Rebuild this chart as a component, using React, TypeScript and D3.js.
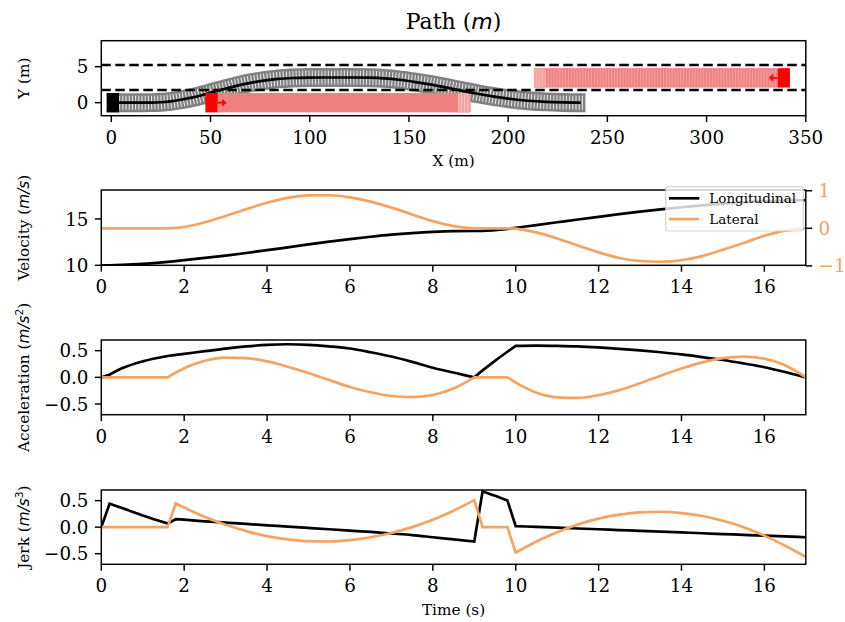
import React from "react";
import * as d3 from "d3";

// ---------------- data ----------------
const time = [0, 0.2, 0.5, 1, 1.6, 1.8, 2, 2.5, 3, 3.5, 4, 4.5, 5, 5.5, 6, 6.5, 7, 7.5, 8, 8.5, 9, 9.2, 9.5, 9.8, 10, 10.5, 11, 11.5, 12, 12.5, 13, 13.5, 14, 14.5, 15, 15.5, 16, 16.5, 17];
// sample times where the profiles have corners
const cornerTimes = [0.2, 1.6, 1.8, 9, 9.2, 9.8, 10];

const velLon = [10.0, 10.005, 10.04, 10.15, 10.37, 10.46, 10.55, 10.8, 11.05, 11.33, 11.63, 11.94, 12.25, 12.55, 12.83, 13.08, 13.3, 13.47, 13.6, 13.68, 13.7, 13.72, 13.8, 13.93, 14.04, 14.34, 14.64, 14.94, 15.23, 15.51, 15.78, 16.03, 16.26, 16.47, 16.65, 16.8, 16.92, 16.99, 17.02];
const velLat = [0, 0, 0, 0, 0, 0.01, 0.035, 0.16, 0.33, 0.51, 0.68, 0.81, 0.875, 0.88, 0.825, 0.71, 0.55, 0.37, 0.19, 0.06, 0, 0, 0, 0, -0.01, -0.11, -0.27, -0.46, -0.64, -0.79, -0.87, -0.89, -0.85, -0.74, -0.57, -0.39, -0.2, -0.06, 0];

const accLon = [0, 0.05, 0.17, 0.3, 0.4, 0.42, 0.44, 0.49, 0.54, 0.58, 0.61, 0.62, 0.61, 0.58, 0.54, 0.47, 0.39, 0.29, 0.18, 0.09, 0, 0.13, 0.31, 0.48, 0.59, 0.595, 0.59, 0.58, 0.56, 0.535, 0.505, 0.47, 0.43, 0.38, 0.325, 0.26, 0.19, 0.1, 0];
const accLat = [0, 0, 0, 0, 0, 0.09, 0.17, 0.31, 0.37, 0.36, 0.3, 0.2, 0.08, -0.05, -0.18, -0.28, -0.35, -0.37, -0.33, -0.21, 0, 0, 0, 0, -0.1, -0.29, -0.375, -0.385, -0.335, -0.24, -0.11, 0.03, 0.165, 0.28, 0.36, 0.39, 0.35, 0.225, 0];

const jerkLon = [0, 0.44, 0.36, 0.22, 0.07, 0.15, 0.14, 0.11, 0.085, 0.06, 0.035, 0.01, -0.015, -0.04, -0.065, -0.09, -0.12, -0.15, -0.19, -0.23, -0.27, 0.67, 0.59, 0.5, 0.02, 0.005, -0.01, -0.025, -0.04, -0.055, -0.07, -0.085, -0.1, -0.115, -0.13, -0.145, -0.16, -0.175, -0.19];
const jerkLat = [0, 0, 0, 0, 0, 0.45, 0.37, 0.19, 0.045, -0.075, -0.17, -0.23, -0.265, -0.27, -0.245, -0.19, -0.11, 0, 0.14, 0.31, 0.51, 0, 0, 0, -0.48, -0.27, -0.095, 0.05, 0.16, 0.235, 0.28, 0.29, 0.265, 0.21, 0.12, 0, -0.16, -0.35, -0.56];

// ego path (X, Y in m)
const pathX = [0, 10, 16, 20, 25, 30, 35, 40.5, 46, 51.5, 57.5, 63.5, 70, 77, 84, 91.5, 99, 106, 120, 123, 130, 137.5, 145, 152.5, 160.5, 168.5, 176.5, 184.5, 193, 201.5, 210, 219, 227.5, 236.5];
const pathY = [0, 0, 0, 0.01, 0.06, 0.18, 0.4, 0.7, 1.07, 1.5, 1.94, 2.37, 2.76, 3.07, 3.3, 3.43, 3.49, 3.5, 3.5, 3.5, 3.47, 3.37, 3.18, 2.9, 2.54, 2.12, 1.68, 1.24, 0.84, 0.51, 0.27, 0.11, 0.03, 0];

const laneLines = [1.75, 5.25];

// vehicles: ego, obstacle 1, obstacle 2
const vehX0 = [-2.3, 47.4, 335.8];
const vehX1 = [3.9, 53.6, 342.0];
const vehY = [0, 0, 3.45];
const vehColor = ["#000000", "#ff0000", "#ff0000"];
const vehHalfWidth = 1.35;
const footprintHalfLength = 2.5;

// predicted obstacle footprints
const obsBandX0 = [53.6, 213.0];
const obsBandX1 = [181.0, 335.8];
const obsY = [0, 3.45];
const obsHeading = [1, -1];
const arrowLength = 4.5;

// ticks
const pathXTicks = [0, 50, 100, 150, 200, 250, 300, 350];
const pathYTicks = [0, 5];
const timeTicks = [0, 2, 4, 6, 8, 10, 12, 14, 16];
const velTicks = [10, 15];
const velLatTicks = [-1, 0, 1];
const velLatLabels = ["\u22121", "0", "1"];
const accTicks = [-0.5, 0, 0.5];
const accLabels = ["\u22120.5", "0.0", "0.5"];
const jerkTicks = [-0.5, 0, 0.5];
const jerkLabels = ["\u22120.5", "0.0", "0.5"];
const legendNames = ["Longitudinal", "Lateral"];

// ---------------- style ----------------
const SERIF = "'DejaVu Serif', serif";
const MATH = "'DejaVu Sans', sans-serif";
const ORANGE = "#F4A460";
const TICK_FS = 18.3;
const LABEL_FS = 15.3;
const SPINE = 1.47;
const TL = 6.4;
const LW = 2.7;
const PL = 101.3;
const PR = 805.8;

const P1 = [40.7, 115.7];
const P2 = [190, 265.3];
const P3 = [340, 414.7];
const P4 = [490, 564.3];

function XTicks({ scale, bottom, ticks, labels }: any) {
  return (
    <g>
      {ticks.map((t: number, i: number) => (
        <g key={i}>
          <line x1={scale(t)} x2={scale(t)} y1={bottom} y2={bottom + TL} stroke="#000" strokeWidth={SPINE} />
          <text x={scale(t)} y={bottom + 28} textAnchor="middle" fontFamily={SERIF} fontSize={TICK_FS} fill="#000">
            {labels ? labels[i] : String(t)}
          </text>
        </g>
      ))}
    </g>
  );
}

function YTicks({ scale, ticks, labels, side = "left", color = "#000" }: any) {
  return (
    <g>
      {ticks.map((t: number, i: number) => {
        const y = scale(t);
        const x = side === "left" ? PL : PR;
        const dir = side === "left" ? -1 : 1;
        return (
          <g key={i}>
            <line x1={x} x2={x + dir * TL} y1={y} y2={y} stroke="#000" strokeWidth={SPINE} />
            <text
              x={x + dir * 12.8}
              y={y + 6.6}
              textAnchor={side === "left" ? "end" : "start"}
              fontFamily={SERIF}
              fontSize={TICK_FS}
              fill={color}
            >
              {labels ? labels[i] : String(t)}
            </text>
          </g>
        );
      })}
    </g>
  );
}

function Frame({ top, bottom }: any) {
  return <rect x={PL} y={top} width={PR - PL} height={bottom - top} fill="none" stroke="#000" strokeWidth={SPINE} />;
}

function YLabel({ top, bottom, children }: any) {
  const cy = (top + bottom) / 2;
  return (
    <text transform={`translate(28.5,${cy}) rotate(-90)`} textAnchor="middle" fontFamily={SERIF} fontSize={LABEL_FS} fill="#000">
      {children}
    </text>
  );
}

export default function App() {
  const xP = d3.scaleLinear().domain([-5.04, 350]).range([PL, PR]);
  const yP = d3.scaleLinear().domain([-1.81, 8.61]).range([P1[1], P1[0]]);
  const xT = d3.scaleLinear().domain([0, 17]).range([PL, PR]);
  const yV = d3.scaleLinear().domain([10, 18.12]).range([P2[1], P2[0]]);
  const yVL = d3.scaleLinear().domain([-0.985, 1.02]).range([P2[1], P2[0]]);
  const yA = d3.scaleLinear().domain([-0.7, 0.7]).range([P3[1], P3[0]]);
  const yJ = d3.scaleLinear().domain([-0.7, 0.7]).range([P4[1], P4[0]]);

  // piecewise smooth line: smooth (monotone) between corner samples, sharp at corners
  const cornerIdx = [0, ...cornerTimes.map((c) => time.indexOf(c)), time.length - 1];
  const series = (ys: number[], sy: any) => {
    const gen = d3
      .line<number>()
      .x((i) => xT(time[i]))
      .y((i) => sy(ys[i]))
      .curve(d3.curveMonotoneX);
    let d = "";
    for (let k = 0; k < cornerIdx.length - 1; k++) {
      const idx = d3.range(cornerIdx[k], cornerIdx[k + 1] + 1);
      const seg = gen(idx) || "";
      d += k === 0 ? seg : seg.replace(/^M/, "L");
    }
    return d;
  };

  const pathPts: [number, number][] = pathX.map((x, i) => [x, pathY[i]]);
  const pathLine = d3.line<[number, number]>().x((d) => xP(d[0])).y((d) => yP(d[1])).curve(d3.curveMonotoneX);
  const bandPts: [number, number][] = [
    [pathX[0] - footprintHalfLength, pathY[0]],
    ...pathPts,
    [pathX[pathX.length - 1] + footprintHalfLength, pathY[pathY.length - 1]],
  ];
  const bandWidth = Math.abs(yP(vehHalfWidth) - yP(-vehHalfWidth)) - 0.5;

  const clip = (id: string, top: number, bottom: number) => (
    <clipPath id={id}>
      <rect x={PL} y={top} width={PR - PL} height={bottom - top} />
    </clipPath>
  );

  const legendX = 665.7;
  const legendY = 186.7;

  return (
    <svg width={845} height={622} style={{ position: "absolute", left: 0, top: 0, background: "#fff" }}>
      <defs>
        {clip("c1", P1[0], P1[1])}
        {clip("c2", P2[0], P2[1])}
        {clip("c3", P3[0], P3[1])}
        {clip("c4", P4[0], P4[1])}
      </defs>
      <rect x={0} y={0} width={845} height={622} fill="#fff" />

      {/* Title */}
      <text x={(PL + PR) / 2} y={29} textAnchor="middle" fontFamily={SERIF} fontSize={22}>
        Path (<tspan fontFamily={MATH} fontStyle="italic">m</tspan>)
      </text>

      {/* ---------- Panel 1: path ---------- */}
      <g clipPath="url(#c1)">
        {/* planned footprints */}
        <path d={pathLine(bandPts) || ""} fill="none" stroke="#808080" strokeWidth={bandWidth} />
        <path d={pathLine(bandPts) || ""} fill="none" stroke="#ececec" strokeWidth={bandWidth - 5} strokeDasharray="1 2.2" />
        {/* obstacle predicted footprints */}
        {obsBandX0.map((x0, i) => {
          const a = Math.min(x0, obsBandX1[i]);
          const b = Math.max(x0, obsBandX1[i]);
          const yTop = yP(obsY[i] + vehHalfWidth);
          const h = yP(obsY[i] - vehHalfWidth) - yTop;
          const fadeStart = obsHeading[i] > 0 ? b - 6 : a;
          const fadeEnd = obsHeading[i] > 0 ? b : a + 6;
          const stripes = obsHeading[i] > 0 ? d3.range(fadeStart, fadeEnd, 1.5) : d3.range(a, b, 1.45);
          return (
            <g key={i}>
              <rect x={xP(a)} y={yTop} width={xP(b) - xP(a)} height={h} fill="#f08080" />
              <rect x={xP(fadeStart)} y={yTop} width={xP(fadeEnd) - xP(fadeStart)} height={h} fill="#f4a3a3" />
              {stripes.map((s, k) => (
                <line key={k} x1={xP(s)} x2={xP(s)} y1={yTop + 1} y2={yTop + h - 1} stroke="#fbd0d0" strokeWidth={0.8} opacity={obsHeading[i] > 0 ? 0.9 : 0.55} />
              ))}
            </g>
          );
        })}
        {/* lane lines */}
        {laneLines.map((ly, i) => (
          <line key={i} x1={PL} x2={PR} y1={yP(ly)} y2={yP(ly)} stroke="#000" strokeWidth={2.5} strokeDasharray="9.5 4.5" />
        ))}
        {/* path */}
        <path d={pathLine(pathPts) || ""} fill="none" stroke="#000" strokeWidth={LW} />
        {/* vehicles */}
        {vehX0.map((x0, i) => (
          <rect key={i} x={xP(x0)} y={yP(vehY[i] + vehHalfWidth)} width={xP(vehX1[i]) - xP(x0)} height={yP(vehY[i] - vehHalfWidth) - yP(vehY[i] + vehHalfWidth)} fill={vehColor[i]} />
        ))}
        {/* heading arrows */}
        {obsHeading.map((h, i) => {
          const start = h > 0 ? vehX1[i + 1] : vehX0[i + 1];
          const end = start + h * arrowLength;
          const y = yP(obsY[i]);
          const tip = xP(end);
          const base = tip - h * 4.5;
          return (
            <g key={i}>
              <line x1={xP(start)} x2={base} y1={y} y2={y} stroke="#ff0000" strokeWidth={1.6} />
              <polygon points={`${tip},${y} ${base},${y - 4} ${base},${y + 4}`} fill="#ff0000" />
            </g>
          );
        })}
      </g>
      <Frame top={P1[0]} bottom={P1[1]} />
      <XTicks scale={xP} bottom={P1[1]} ticks={pathXTicks} />
      <YTicks scale={yP} ticks={pathYTicks} />
      <text x={(PL + PR) / 2} y={P1[1] + 50.5} textAnchor="middle" fontFamily={SERIF} fontSize={LABEL_FS}>X (m)</text>
      <YLabel top={P1[0]} bottom={P1[1]}>Y (m)</YLabel>

      {/* ---------- Panel 2: velocity ---------- */}
      <g clipPath="url(#c2)">
        <path d={series(velLon, yV)} fill="none" stroke="#000" strokeWidth={LW} />
        <path d={series(velLat, yVL)} fill="none" stroke={ORANGE} strokeWidth={LW} />
      </g>
      <Frame top={P2[0]} bottom={P2[1]} />
      <XTicks scale={xT} bottom={P2[1]} ticks={timeTicks} />
      <YTicks scale={yV} ticks={velTicks} />
      <YTicks scale={yVL} ticks={velLatTicks} labels={velLatLabels} side="right" color={ORANGE} />
      <YLabel top={P2[0]} bottom={P2[1]}>
        Velocity (<tspan fontFamily={MATH} fontStyle="italic">m/s</tspan>)
      </YLabel>
      {/* legend */}
      <g>
        <rect x={legendX} y={legendY} width={137.6} height={44.3} rx={3} fill="#fff" fillOpacity={0.8} stroke="#cccccc" strokeOpacity={0.8} strokeWidth={1.2} />
        {legendNames.map((name, i) => {
          const ly = legendY + 11.6 + i * 20.7;
          return (
            <g key={i}>
              <line x1={669} x2={699.3} y1={ly} y2={ly} stroke={i === 0 ? "#000" : ORANGE} strokeWidth={LW} />
              <text x={709.3} y={ly + 4.5} fontFamily={SERIF} fontSize={13.5} fill="#000">{name}</text>
            </g>
          );
        })}
      </g>

      {/* ---------- Panel 3: acceleration ---------- */}
      <g clipPath="url(#c3)">
        <path d={series(accLon, yA)} fill="none" stroke="#000" strokeWidth={LW} />
        <path d={series(accLat, yA)} fill="none" stroke={ORANGE} strokeWidth={LW} />
      </g>
      <Frame top={P3[0]} bottom={P3[1]} />
      <XTicks scale={xT} bottom={P3[1]} ticks={timeTicks} />
      <YTicks scale={yA} ticks={accTicks} labels={accLabels} />
      <YLabel top={P3[0]} bottom={P3[1]}>
        Acceleration (<tspan fontFamily={MATH} fontStyle="italic">m/s</tspan>
        <tspan fontFamily={MATH} fontSize={10.7} dy={-6}>2</tspan>
        <tspan dy={6}>)</tspan>
      </YLabel>

      {/* ---------- Panel 4: jerk ---------- */}
      <g clipPath="url(#c4)">
        <path d={series(jerkLon, yJ)} fill="none" stroke="#000" strokeWidth={LW} />
        <path d={series(jerkLat, yJ)} fill="none" stroke={ORANGE} strokeWidth={LW} />
      </g>
      <Frame top={P4[0]} bottom={P4[1]} />
      <XTicks scale={xT} bottom={P4[1]} ticks={timeTicks} />
      <YTicks scale={yJ} ticks={jerkTicks} labels={jerkLabels} />
      <YLabel top={P4[0]} bottom={P4[1]}>
        Jerk (<tspan fontFamily={MATH} fontStyle="italic">m/s</tspan>
        <tspan fontFamily={MATH} fontSize={10.7} dy={-6}>3</tspan>
        <tspan dy={6}>)</tspan>
      </YLabel>
      <text x={(PL + PR) / 2} y={P4[1] + 50.7} textAnchor="middle" fontFamily={SERIF} fontSize={LABEL_FS}>Time (s)</text>
    </svg>
  );
}
